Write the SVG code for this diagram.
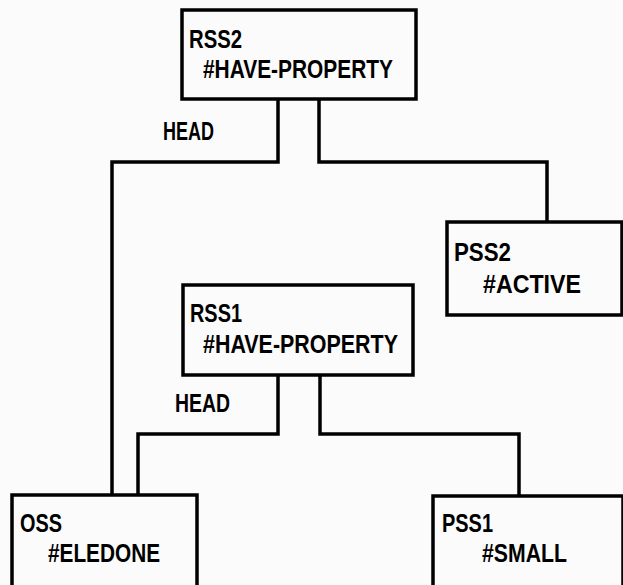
<svg xmlns="http://www.w3.org/2000/svg" width="623" height="585" viewBox="0 0 623 585">
<style>
.box{fill:none;stroke:#000;stroke-width:3.5}
.ln{fill:none;stroke:#000;stroke-width:3.5}
text{font-family:"Liberation Sans",Arial,sans-serif;font-weight:bold;font-size:25px;fill:#000}
</style>
<rect width="623" height="585" fill="#fbfbfb"/>
<g id="connectors">
<path class="ln" d="M278,99 V162 H112 V495"/>
<path class="ln" d="M319,99 V162 H547 V222"/>
<path class="ln" d="M278,375 V434 H138 V496"/>
<path class="ln" d="M320,375 V434 H519 V496"/>
<text x="163" y="140" textLength="51" lengthAdjust="spacingAndGlyphs">HEAD</text>
<text x="175" y="412" textLength="55" lengthAdjust="spacingAndGlyphs">HEAD</text>
</g>
<g id="RSS2">
<rect class="box" x="182" y="10" width="234" height="89"/>
<text x="189" y="48" textLength="53" lengthAdjust="spacingAndGlyphs">RSS2</text>
<text x="203" y="78" textLength="190" lengthAdjust="spacingAndGlyphs">#HAVE-PROPERTY</text>
</g>
<g id="PSS2">
<rect class="box" x="447" y="222" width="175" height="93"/>
<text x="454" y="261" textLength="57" lengthAdjust="spacingAndGlyphs">PSS2</text>
<text x="483" y="293" textLength="98" lengthAdjust="spacingAndGlyphs">#ACTIVE</text>
</g>
<g id="RSS1">
<rect class="box" x="183" y="285" width="230" height="90"/>
<text x="190" y="322" textLength="52" lengthAdjust="spacingAndGlyphs">RSS1</text>
<text x="203" y="353" textLength="195" lengthAdjust="spacingAndGlyphs">#HAVE-PROPERTY</text>
</g>
<g id="OSS">
<rect class="box" x="12" y="495" width="185" height="100"/>
<text x="20" y="532" textLength="42" lengthAdjust="spacingAndGlyphs">OSS</text>
<text x="48" y="562" textLength="112" lengthAdjust="spacingAndGlyphs">#ELEDONE</text>
</g>
<g id="PSS1">
<rect class="box" x="433" y="496" width="190" height="100"/>
<text x="442" y="532" textLength="51" lengthAdjust="spacingAndGlyphs">PSS1</text>
<text x="482" y="562" textLength="85" lengthAdjust="spacingAndGlyphs">#SMALL</text>
</g>
</svg>
